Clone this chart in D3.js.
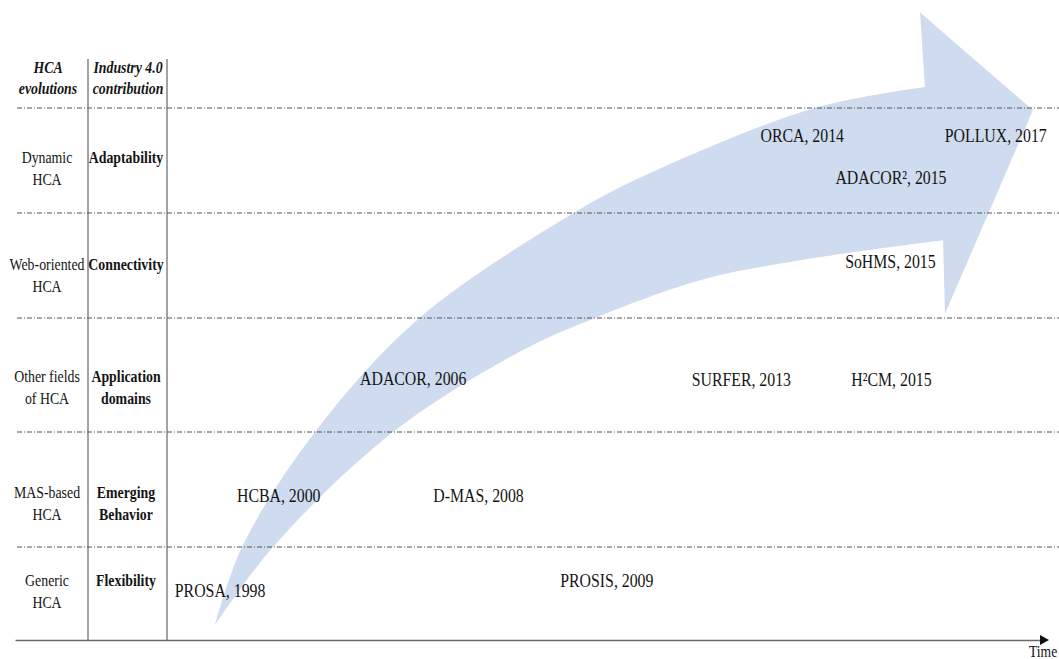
<!DOCTYPE html>
<html>
<head>
<meta charset="utf-8">
<script src="https://cdn.jsdelivr.net/npm/d3@7"></script>
<style>
  html, body { margin: 0; padding: 0; background: #fff; }
  svg { display: block; }
  text { font-family: "Liberation Serif", "Times New Roman", serif; fill: #141414; }
</style>
</head>
<body>
<svg id="chart" width="1059" height="659"></svg>
<script>
// ---------- data ----------
const headerLeft = ["HCA", "evolutions"];
const headerRight = ["Industry 4.0", "contribution"];

const hcaEvolutions = [
  ["Dynamic", "HCA"],
  ["Web-oriented", "HCA"],
  ["Other fields", "of HCA"],
  ["MAS-based", "HCA"],
  ["Generic", "HCA"]
];
const contributions = [
  ["Adaptability"],
  ["Connectivity"],
  ["Application", "domains"],
  ["Emerging", "Behavior"],
  ["Flexibility"]
];
// baseline of first label line inside each row (row units)
const rowLabelSlot = [0.52, 0.54, 0.56, 0.57, 0.42];

// events: name, year, row index, vertical slot inside the row, position on the timeline (0-100)
const eventNames = ["PROSA", "HCBA", "ADACOR", "D-MAS", "PROSIS", "SURFER", "ORCA", "H\u00B2CM", "ADACOR\u00B2", "SoHMS", "POLLUX"];
const eventYears = [1998, 2000, 2006, 2008, 2009, 2013, 2014, 2015, 2015, 2015, 2017];
const eventRows  = [4, 3, 2, 3, 4, 2, 0, 2, 0, 1, 0];
const eventSlots = [0.54, 0.61, 0.59, 0.61, 0.43, 0.60, 0.32, 0.60, 0.72, 0.52, 0.32];
const eventTime  = [1.0, 8.05, 22.0, 30.3, 44.7, 59.6, 67.4, 77.7, 75.9, 77.0, 88.3];

// evolution arrow outline (timeline units, row units)
const arrowOuter = [[5.56,4.84],[8.62,4],[16.89,3],[28.57,2.01],[46.03,1.01],[54.88,0.62],[73.58,0],[86.05,-0.2]];
const arrowHead  = [[85.49,-0.91],[98.30,0.02],[88.32,1.96],[88.10,1.26]];
const arrowInner = [[5.56,4.84],[12.13,4],[25.74,3],[40.48,2.28],[48.30,2.01],[60.54,1.64],[71.88,1.45],[88.10,1.26]];

// ---------- scales ----------
const svg = d3.select("#chart");
const x = d3.scaleLinear().domain([0, 100]).range([166, 1048]);
const y = d3.scaleLinear().domain([0, 1, 2, 3, 4, 5]).range([108, 213, 318, 432, 547, 640]);

// ---------- arrow ----------
const curve = d3.line().x(d => x(d[0])).y(d => y(d[1])).curve(d3.curveCatmullRom.alpha(0.5));
const straight = d3.line().x(d => x(d[0])).y(d => y(d[1]));
const pathD = curve(arrowOuter)
  + straight(arrowHead).replace(/^M/, "L")
  + curve(arrowInner.slice().reverse()).replace(/^M/, "L")
  + "Z";
svg.append("path").attr("d", pathD).attr("fill", "#cfdbee");

// ---------- grid lines ----------
svg.selectAll("line.row")
  .data(d3.range(5))
  .join("line")
  .attr("class", "row")
  .attr("x1", 17).attr("x2", 1059)
  .attr("y1", d => y(d)).attr("y2", d => y(d))
  .attr("stroke", "#555")
  .attr("stroke-width", 1)
  .attr("stroke-dasharray", "5,2,1,2");

svg.selectAll("line.col")
  .data([88, 167])
  .join("line")
  .attr("class", "col")
  .attr("x1", d => d).attr("x2", d => d)
  .attr("y1", 59).attr("y2", 641)
  .attr("stroke", "#666")
  .attr("stroke-width", 1.2);

// time axis
const tScale = d3.scaleLinear().domain([0, 1]).range([15, 1042]);
const axis = svg.append("g").attr("transform", "translate(0,640)")
  .call(d3.axisBottom(tScale).tickValues([]).tickSizeOuter(0));
axis.select(".domain").attr("stroke", "#6a6a6a").attr("stroke-width", 1.5);
svg.append("path")
  .attr("d", d3.line()([[1040, 635], [1049, 640], [1040, 645]]) + "Z")
  .attr("fill", "#111");
svg.append("text")
  .attr("transform", "translate(1029,657) scale(0.8,1)")
  .attr("font-size", 17)
  .text("Time");

// ---------- text helpers ----------
function addText(tx, ty, str, opts) {
  const t = svg.append("text")
    .attr("transform", `translate(${tx},${ty}) scale(${opts.sx || 0.8},1)`)
    .attr("font-size", opts.size)
    .attr("text-anchor", opts.anchor || "start")
    .text(str);
  if (opts.bold) t.attr("font-weight", "bold");
  if (opts.italic) t.attr("font-style", "italic");
  return t;
}

// headers
headerLeft.forEach((s, i) => addText(48, 73 + i * 21, s, {size: 17.3, anchor: "middle", bold: true, italic: true}));
headerRight.forEach((s, i) => addText(128, 73 + i * 21, s, {size: 17.3, anchor: "middle", bold: true, italic: true}));

// row labels
hcaEvolutions.forEach((lines, r) => {
  const base = y(r + rowLabelSlot[r]);
  lines.forEach((s, j) => addText(47, base + j * 22, s, {size: 17.3, anchor: "middle"}));
});
contributions.forEach((lines, r) => {
  const base = y(r + rowLabelSlot[r]);
  lines.forEach((s, j) => addText(126, base + j * 22, s, {size: 17.3, anchor: "middle", bold: true}));
});

// events
eventNames.forEach((n, i) => {
  addText(x(eventTime[i]), y(eventRows[i] + eventSlots[i]), `${n}, ${eventYears[i]}`, {size: 19.8, sx: 0.8});
});
</script>
</body>
</html>
